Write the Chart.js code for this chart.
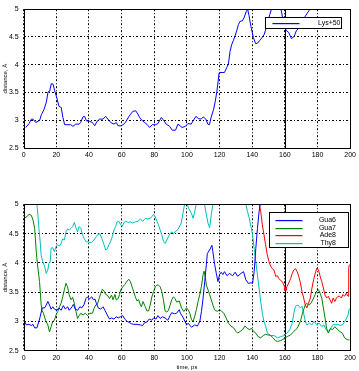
<!DOCTYPE html>
<html><head><meta charset="utf-8">
<script src="https://cdn.jsdelivr.net/npm/chart.js@4"></script>
<style>
html,body{margin:0;padding:0;background:#fff;width:359px;height:371px;overflow:hidden}
#c1{position:absolute;left:0;top:0}
#c2{position:absolute;left:0;top:185px}
</style></head><body>
<canvas id="c1" width="359" height="185"></canvas>
<canvas id="c2" width="359" height="186"></canvas>
<script>
// ---- data (time in ps, distance in Å) ----
const xTicks = [0,20,40,60,80,100,120,140,160,180,200];
const yTicks = [2.5,3,3.5,4,4.5,5];
const markerTime = 160;

const lys50 = [[1.2,2.87],[3.3,2.94],[4.7,3.02],[5.7,3.02],[7.3,2.96],[8.8,2.98],[9.8,3.0],[10.8,3.1],[12.4,3.19],[13.9,3.33],[14.9,3.51],[15.9,3.52],[16.9,3.66],[18,3.65],[19,3.53],[20.4,3.39],[21.6,3.25],[23,3.23],[24,3.05],[25.1,2.92],[27.1,2.92],[28.8,2.92],[30.2,2.89],[31.8,2.93],[33.9,2.93],[34.9,2.96],[36.3,3.06],[37.3,3.07],[38.4,2.99],[40.4,2.98],[42,2.96],[43.5,2.9],[44.9,2.98],[46.5,3.02],[48.6,3.02],[50.2,3.07],[51.6,3.02],[53.3,2.96],[55.3,2.93],[56.7,2.96],[57.8,2.9],[59.8,2.9],[61.8,2.94],[62.9,2.99],[64.5,3.07],[65.5,3.11],[66.9,3.16],[68.6,3.17],[70,3.11],[71,3.05],[72.7,2.99],[74.1,2.96],[75.7,2.92],[77.1,2.87],[78.8,2.92],[80.8,2.92],[82.2,2.94],[84.3,3.05],[85.7,3.0],[87.3,2.93],[89.4,2.89],[91,2.82],[93,2.82],[94.5,2.93],[97,2.87],[99,2.89],[100.6,2.94],[102.6,2.93],[104,3.0],[105.5,3.07],[107,3.03],[108.7,3.02],[110,3.06],[111.6,3.02],[112.8,2.93],[113.8,2.92],[114.8,3.05],[116.3,3.19],[117.3,3.33],[118.3,3.51],[118.9,3.65],[119.7,3.85],[120.9,3.86],[123,3.86],[124.4,3.95],[125.4,4.01],[126.4,4.24],[127.4,4.36],[128.5,4.44],[129.5,4.52],[130.5,4.61],[131.5,4.72],[132.5,4.78],[134,4.79],[135.2,4.86],[136.2,4.95],[137.2,5.0],[138,4.89],[139.2,4.69],[140.7,4.49],[142.1,4.38],[143.3,4.39],[144.7,4.44],[146.1,4.49],[147.4,4.55],[148.8,4.69],[149.8,4.8],[150.8,4.91],[151.8,5.0],[153.5,5.08],[157.5,5.02],[159.6,4.69],[161,4.61],[162.4,4.58],[164,4.47],[165.7,4.51],[167,4.61],[168.5,4.66],[170,4.78],[172.2,4.86],[174.2,4.95],[175.8,5.02],[177.5,5.12]];

const gua6 = [[0.6,3.0],[1.6,2.94],[3.2,2.95],[4.7,2.93],[5.7,2.95],[6.7,2.89],[8.1,2.89],[9.3,3.0],[10.1,3.08],[11.3,3.23],[12.8,3.23],[13.8,3.28],[14.8,3.34],[15.8,3.28],[16.8,3.21],[17.8,3.25],[18.8,3.21],[20.2,3.19],[21.5,3.23],[22.9,3.19],[24.3,3.27],[25.5,3.21],[26.9,3.25],[27.9,3.19],[29.6,3.25],[30.4,3.29],[31.6,3.21],[33,3.19],[34.4,3.25],[35.6,3.23],[37,3.29],[38.1,3.39],[39.1,3.42],[40.1,3.38],[41.7,3.42],[42.7,3.37],[43.7,3.38],[44.5,3.31],[45.7,3.23],[47.2,3.21],[48.6,3.25],[49.8,3.19],[51.2,3.11],[52.6,3.04],[53.8,3.06],[55.3,3.04],[56.7,3.08],[57.9,3.06],[59.3,3.08],[60.7,3.1],[61.9,3.04],[63.4,3.0],[64.8,2.98],[66,2.96],[67.4,2.95],[69.4,2.95],[71.5,2.94],[72.9,2.93],[74.1,2.98],[75.5,2.99],[76.9,3.04],[78.5,3.02],[79.6,3.06],[81,3.04],[82.2,3.1],[83.6,3.05],[85,3.08],[86.6,3.06],[88.3,3.02],[89.7,3.1],[90.7,3.15],[92.3,3.13],[93.7,3.14],[95.3,3.2],[96,3.14],[97.8,3.06],[99.8,2.94],[100.8,2.97],[102.8,2.9],[104.8,2.94],[106.4,2.92],[107.9,3.0],[108.9,3.17],[109.9,3.4],[110.9,3.68],[111.9,3.97],[112.5,4.16],[113.9,4.22],[115.3,4.3],[115.9,4.19],[117,3.97],[118,3.82],[119,3.68],[120,3.8],[121,3.84],[122,3.8],[123,3.85],[124.6,3.78],[126,3.82],[128,3.78],[129.5,3.84],[131.1,3.77],[133.1,3.82],[134.7,3.85],[136.1,3.71],[137.6,3.65],[139.2,3.66],[140.2,3.65],[141.2,3.85],[142.2,4.25],[143.2,4.59],[144.2,4.87],[145.2,5.05],[146,5.3]];

const gua7 = [[0.6,4.77],[2,4.79],[3.2,4.83],[4.7,4.81],[5.7,4.73],[6.7,4.59],[7.7,4.19],[8.7,3.91],[9.7,3.68],[10.3,3.45],[10.7,3.28],[11.3,3.18],[12.1,3.14],[13.4,3.02],[14.8,2.94],[15.8,2.82],[16.8,2.91],[17.8,3.0],[18.8,3.02],[19.8,3.11],[20.9,3.17],[21.9,3.25],[22.9,3.31],[23.9,3.42],[24.9,3.54],[25.9,3.65],[26.9,3.59],[27.9,3.45],[29,3.37],[30,3.41],[31,3.31],[32,3.17],[33,3.05],[34,3.1],[35,3.14],[36.4,3.11],[37.7,3.14],[39.1,3.1],[40.5,3.14],[42.1,3.14],[43.1,3.22],[44.1,3.28],[45.1,3.29],[46.2,3.39],[47.2,3.48],[48.2,3.55],[49.2,3.52],[50.2,3.46],[51.2,3.45],[52.6,3.39],[53.8,3.45],[54.7,3.37],[55.9,3.46],[56.7,3.37],[57.9,3.39],[58.7,3.46],[59.5,3.54],[60.7,3.59],[61.9,3.63],[63.4,3.69],[64.4,3.72],[65.4,3.68],[66.4,3.59],[67.4,3.51],[68.4,3.42],[69.4,3.35],[70.4,3.37],[71.5,3.28],[72.1,3.25],[73.1,3.34],[74.5,3.25],[75.5,3.18],[76.5,3.18],[77.5,3.28],[78.5,3.42],[79.6,3.51],[80.6,3.59],[81.6,3.62],[82.6,3.62],[83.6,3.59],[84.6,3.51],[85.6,3.37],[86.6,3.18],[87.7,3.16],[88.7,3.19],[89.7,3.28],[90.7,3.37],[91.7,3.42],[92.7,3.39],[93.7,3.33],[95.3,3.35],[96.7,3.23],[98.1,3.17],[99.7,3.23],[100.8,3.2],[101.8,3.14],[102.8,3.03],[103.8,3.0],[104.8,3.09],[105.8,3.2],[106.8,3.34],[107.9,3.46],[108.9,3.6],[109.9,3.8],[110.5,3.86],[111.3,3.75],[111.9,3.62],[112.9,3.54],[113.9,3.46],[114.9,3.37],[115.9,3.28],[116.9,3.2],[118.6,3.17],[119.9,3.2],[121,3.18],[122.6,3.14],[124,3.06],[125.4,2.97],[127,2.92],[128.6,2.89],[130.1,2.83],[131.1,2.8],[132.7,2.83],[134.1,2.86],[135.5,2.92],[136.7,2.89],[138.2,2.86],[139.6,2.88],[140.8,2.83],[142.2,2.8],[143.6,2.74],[145.2,2.72],[146.8,2.76],[148.2,2.78],[149.6,2.77],[151.2,2.76],[152.8,2.72],[154.2,2.67],[155.4,2.66],[157.4,2.67],[159.8,2.71],[161.4,2.74],[163.5,2.77],[165.5,2.83],[167.5,2.88],[169.5,3.0],[170.5,3.11],[171.5,3.2],[172.5,3.28],[173.5,3.31],[174.5,3.28],[176,3.31],[177.6,3.4],[178.6,3.46],[179.6,3.52],[180.6,3.54],[181.6,3.48],[182.6,3.4],[183.6,3.23],[184.6,3.06],[185.6,2.88],[186.6,2.8],[188,2.88],[189.2,2.86],[190.6,2.91],[192,2.87],[193.6,2.83],[195.2,2.8],[196.6,2.72],[198.1,2.69],[199.5,2.68]];

const ade8 = [[143.8,5.15],[144.2,5.0],[145.2,4.88],[146.2,4.65],[147.2,4.48],[148.2,4.31],[149.2,4.14],[150.3,4.02],[151.3,3.94],[152.3,3.9],[153.3,3.88],[154.4,3.77],[155.4,3.78],[156.4,3.73],[157.4,3.7],[158.4,3.68],[159.4,3.62],[160.4,3.54],[161.4,3.6],[162.4,3.66],[163.5,3.73],[164.5,3.82],[165.5,3.88],[166.5,3.9],[167.5,3.85],[168.5,3.77],[169.5,3.66],[170.5,3.51],[171.5,3.4],[172.5,3.28],[173.5,3.23],[174.5,3.31],[175.6,3.4],[176.6,3.57],[177.6,3.71],[178.6,3.82],[179.6,3.91],[180.6,3.88],[181.6,3.77],[182.6,3.68],[183.6,3.57],[184.6,3.45],[185.6,3.4],[186.6,3.43],[187.6,3.37],[188.6,3.31],[189.6,3.4],[190.6,3.34],[191.6,3.4],[192.6,3.43],[193.6,3.43],[194.6,3.4],[195.6,3.46],[196.6,3.43],[197.6,3.48],[198.7,3.43],[199.1,3.91],[199.5,3.97]];
const ade8Marker = [[160.4,3.55]];

const thy8 = [[7.5,5.2],[8.1,5.0],[8.7,4.82],[9.3,4.59],[10.1,4.36],[10.7,4.13],[11.7,4.02],[12.8,3.94],[13.8,3.82],[14.8,3.88],[15.4,3.99],[16.2,4.01],[16.8,4.25],[17.8,4.26],[18.8,4.19],[19.8,4.28],[20.9,4.31],[21.9,4.29],[22.9,4.33],[23.9,4.41],[24.9,4.39],[25.9,4.53],[26.9,4.58],[27.9,4.56],[29,4.59],[30,4.62],[31,4.69],[32,4.6],[33,4.53],[34,4.62],[35,4.59],[36,4.48],[37,4.42],[38.1,4.36],[39.1,4.36],[40.1,4.35],[41.7,4.35],[43.1,4.39],[44.5,4.45],[45.7,4.49],[46.6,4.5],[47.8,4.42],[49.2,4.31],[50.2,4.22],[51.2,4.24],[52.2,4.31],[53.2,4.36],[54.3,4.45],[55.3,4.56],[56.3,4.62],[57.3,4.7],[58.3,4.71],[59.3,4.66],[60.3,4.62],[61.3,4.68],[62.3,4.71],[64,4.69],[65.4,4.7],[66.8,4.68],[68.4,4.7],[70,4.71],[71.5,4.75],[72.9,4.71],[74.5,4.76],[76.1,4.75],[77.5,4.76],[78.5,4.79],[79.6,4.83],[80.6,4.79],[81.6,4.71],[82.6,4.65],[83.6,4.56],[84.6,4.48],[85.6,4.37],[86.6,4.33],[87.7,4.39],[88.7,4.45],[89.7,4.5],[90.7,4.53],[91.7,4.5],[92.7,4.53],[94.5,4.57],[96.5,4.68],[98.5,4.99],[99.9,5.02],[101.1,4.93],[102.8,4.84],[103.8,4.76],[104.8,4.88],[105.8,5.02],[107,5.2],[110.2,5.2],[110.8,5.0],[111.9,4.82],[112.9,4.68],[113.9,4.6],[114.9,4.82],[115.9,5.0],[117,5.2],[135,5.2],[136.1,5.0],[137.1,4.88],[138.2,4.76],[139.2,4.62],[140.2,4.48],[141.2,4.25],[142.2,4.02],[143.2,3.79],[144.2,3.57],[145.2,3.34],[146.2,3.14],[147.2,3.0],[148.2,2.92],[149.3,2.8],[151.3,2.76],[153.3,2.76],[155.4,2.72],[157.4,2.74],[159.8,2.76],[161.4,2.8],[163,2.86],[164.5,2.97],[165.5,3.14],[166.5,3.26],[167.9,3.28],[169.5,3.23],[170.5,3.26],[171.5,3.14],[172.5,3.0],[173.5,2.94],[175.1,2.97],[176.5,2.94],[177.9,3.0],[179.5,2.94],[181.1,2.97],[182.6,2.91],[184,2.94],[185.2,2.86],[186.6,2.83],[188,2.88],[189.6,2.95],[191.2,2.94],[192.6,2.95],[194,2.93],[195.6,2.95],[197.2,3.02],[198.7,3.11],[199.5,3.22]];

// ---- helpers ----
const FONT = 'Arial, "Liberation Sans", Helvetica, sans-serif';
const pts = a => a.map(p => ({x: p[0], y: p[1]}));
function lineDs(label, arr, color) {
  return {label, data: pts(arr), borderColor: color, backgroundColor: color, legendColor: color,
    borderWidth: 1, pointRadius: 0, tension: 0, fill: false, showLine: true, inLegend: true};
}

const framePlugin = {
  id: 'frame',
  beforeDatasetsDraw(chart) {
    const {ctx, chartArea: a, scales} = chart;
    const x = Math.round(scales.x.getPixelForValue(markerTime)) + 0.5;
    ctx.save();
    ctx.strokeStyle = '#000'; ctx.lineWidth = 1; ctx.setLineDash([]);
    ctx.beginPath(); ctx.moveTo(x, a.top); ctx.lineTo(x, a.bottom); ctx.stroke();
    ctx.restore();
  },
  afterDraw(chart, args, opts) {
    const {ctx, chartArea: a} = chart;
    ctx.save();
    const lg = opts.legend;
    const items = chart.config.data.datasets.filter(d => d.inLegend);
    const bx = Math.round(a.right - lg.right - lg.w) + 0.5;
    const by = Math.round(a.top + lg.top) + 0.5;
    ctx.fillStyle = '#fff';
    ctx.fillRect(bx, by, lg.w, lg.h);
    ctx.strokeStyle = '#000'; ctx.lineWidth = 1; ctx.setLineDash([]);
    ctx.strokeRect(bx, by, lg.w, lg.h);
    ctx.font = '7px ' + FONT;
    ctx.textAlign = 'right'; ctx.textBaseline = 'middle';
    items.forEach((d, i) => {
      const y = Math.round(by + lg.first + i * lg.step);
      ctx.fillStyle = d.legendColor;
      ctx.fillRect(bx + lg.l1, y, lg.l2 - lg.l1, 1.2);
      ctx.fillStyle = '#000';
      ctx.fillText(d.label, bx + lg.w - lg.tr, y + 0.5);
    });
    ctx.strokeStyle = '#000'; ctx.lineWidth = 1;
    ctx.strokeRect(Math.round(a.left) + 0.5, Math.round(a.top) + 0.5,
      Math.round(a.right - a.left), Math.round(a.bottom - a.top));
    ctx.restore();
  }
};

function makeOptions(cfg) {
  return {
    responsive: false, animation: false, devicePixelRatio: 1,
    layout: {padding: {top: cfg.padTop, right: 5.5, left: 0, bottom: 0}},
    plugins: {legend: {display: false}, tooltip: {enabled: false}, frame: {legend: cfg.legend}},
    scales: {
      x: {
        type: 'linear', min: 0, max: 200,
        afterBuildTicks: s => { s.ticks = xTicks.map(v => ({value: v})); },
        afterFit: s => { s.height = cfg.xH; },
        ticks: {color: '#000', font: {size: 7, family: FONT}, padding: 3, maxRotation: 0, autoSkip: false},
        grid: {color: '#000', lineWidth: 1, drawTicks: false},
        border: {display: false, dash: [2, 2, 1, 2]},
        title: {display: !!cfg.xTitle, text: cfg.xTitle || '', color: '#000',
          font: {size: 6, family: FONT}, padding: {top: 0, bottom: 0}}
      },
      y: {
        type: 'linear', min: 2.5, max: 5,
        afterBuildTicks: s => { s.ticks = yTicks.map(v => ({value: v})); },
        afterFit: s => { s.width = 23.7; },
        ticks: {color: '#000', font: {size: 7, family: FONT}, padding: 5,
          callback: v => String(+Number(v).toFixed(1))},
        grid: {color: '#000', lineWidth: 1, drawTicks: false},
        border: {display: false, dash: [2, 2, 1, 2]},
        title: {display: true, text: 'distance, Å', color: '#000',
          font: {size: 6, family: FONT}, padding: {top: 2, bottom: 0}}
      }
    }
  };
}

new Chart(document.getElementById('c1'), {
  type: 'scatter',
  data: {datasets: [lineDs('Lys+50', lys50, '#0000ff')]},
  options: makeOptions({padTop: 2, xH: 37,
    legend: {right: 9.5, top: 8, w: 76, h: 11, first: 5.5, step: 0, l1: 7, l2: 34, tr: 1}}),
  plugins: [framePlugin]
});

const markerDs = {label: 'marker', data: pts(ade8Marker), borderColor: '#ff0000', backgroundColor: '#ff0000',
  pointRadius: 1.5, pointStyle: 'rect', showLine: false, inLegend: false};

new Chart(document.getElementById('c2'), {
  type: 'scatter',
  data: {datasets: [
    lineDs('Gua6', gua6, '#0000ff'),
    lineDs('Gua7', gua7, '#008000'),
    lineDs('Ade8', ade8, '#ff0000'),
    lineDs('Thy8', thy8, '#00bfbf'),
    markerDs
  ]},
  options: makeOptions({padTop: 19.3, xH: 20.3, xTitle: 'time, ps',
    legend: {right: 2.5, top: 7.7, w: 79, h: 35, first: 7.5, step: 7.5, l1: 6, l2: 33, tr: 12.5}}),
  plugins: [framePlugin]
});
</script>
</body></html>
